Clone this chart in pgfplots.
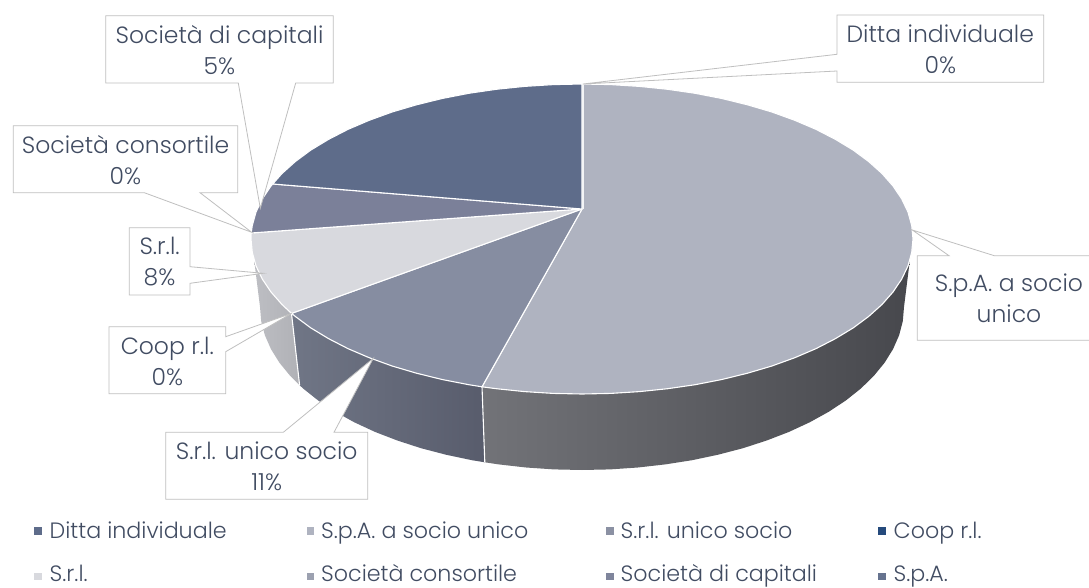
\documentclass[border=0pt]{standalone}
\usepackage{pgfplots}
\pgfplotsset{compat=1.18}
\usepackage{fontspec}
\setmainfont{Poppins}[UprightFont=* Light]
\definecolor{txt}{HTML}{414C62}
\definecolor{call}{HTML}{BFBFBF}
\definecolor{C1L}{HTML}{727378}
\definecolor{C1M}{HTML}{4D4E53}
\definecolor{C1R}{HTML}{47484D}
\definecolor{C2L}{HTML}{707686}
\definecolor{C2R}{HTML}{585C6C}
\definecolor{C3L}{HTML}{BDBEC3}
\definecolor{C3R}{HTML}{B0B1B6}
\definecolor{T1}{HTML}{AFB3C0}
\definecolor{T2}{HTML}{868DA1}
\definecolor{T3}{HTML}{D8D9DE}
\definecolor{T4}{HTML}{7B8099}
\definecolor{T5}{HTML}{5E6C8A}
\definecolor{L3}{HTML}{8B91A3}
\definecolor{L4}{HTML}{254A7C}
\definecolor{L6}{HTML}{9CA1B0}
\definecolor{L7}{HTML}{7F859C}
\definecolor{L8}{HTML}{66738F}
\pgfplotsset{
 slice/.style={draw=white,line width=1.1pt,line join=round},
 callout/.style={draw=call,line width=0.8pt,fill=white,line join=miter},
 lg/.style={only marks,mark=square*,mark size=3.2pt,mark options={solid,draw=#1,fill=#1,line width=0.1pt}}
}
\newcommand{\lab}[3]{\node[text=txt,font=\fontsize{23.5}{31}\selectfont,align=center,inner sep=0pt] at (axis cs:#1,#2) {#3};}
\newcommand{\leg}[3]{\node[text=txt,font=\fontsize{22.2}{24}\selectfont,anchor=base west,inner sep=0pt] at (axis cs:#1,#2) {#3};}
\begin{document}
\begin{tikzpicture}
\path[use as bounding box] (0,0) rectangle (1089pt,588pt);
\begin{axis}[at={(0,0)},anchor=south west,width=1089pt,height=588pt,scale only axis,
 xmin=0,xmax=1089,ymin=0,ymax=588,y dir=reverse,axis lines=none,clip=true]
% sides
\addplot[draw=none,left color=C1L,middle color=C1M,right color=C1R] coordinates {
(909.8,260.6)(908,265.9)(901.7,279.1)(893,292)(882,304.5)(868.6,316.5)(853.2,327.9)(835.5,338.6)(816.1,348.6)(794.8,357.7)(771.9,366)(747.5,373.2)(721.9,379.5)(695.2,384.7)(667.7,388.7)(639.5,391.6)(610.9,393.4)(582,394)(553.1,393.4)(524.5,391.6)(496.3,388.7)(482,386.8)
(484.8,462.3)(498.7,464.4)(526.1,467.5)(553.9,469.4)(582,470)(610.1,469.4)(637.9,467.5)(665.3,464.4)(692.1,460.2)(718.1,454.7)(743,448.2)(766.7,440.5)(789,431.9)(809.7,422.3)(828.7,411.8)(845.8,400.5)(860.9,388.5)(873.8,375.9)(884.6,362.7)(893,349.2)(899.1,335.3)(902.8,321.2)(904,307)
} --cycle;
\addplot[draw=none,left color=C2L,right color=C2R] coordinates {
(482,386.8)(468.8,384.7)(442.1,379.5)(416.5,373.2)(392.1,366)(369.2,357.7)(347.9,348.6)(328.5,338.6)(310.8,327.9)(295.4,316.5)(291.5,313.4)
(299.6,385.2)(303.1,388.5)(318.2,400.5)(335.3,411.8)(354.3,422.3)(375,431.9)(397.3,440.5)(421,448.2)(445.9,454.7)(471.9,460.2)(484.8,462.3)
} --cycle;
\addplot[draw=none,left color=C3L,right color=C3R] coordinates {
(291.5,313.4)(282,304.5)(271,292)(262.3,279.1)(256,265.9)(254,259)
(260,307)(261.2,321.2)(264.9,335.3)(271,349.2)(279.4,362.7)(290.2,375.9)(299.6,385.2)
} --cycle;
% separators on the side
\addplot[white,line width=1.1pt] coordinates {(482,386.8)(484.8,462.3)};
\addplot[white,line width=1.1pt] coordinates {(291.5,313.4)(299.6,385.2)};
% top faces
\addplot[slice,fill=T1] coordinates {
(582,209)(582,84)(610.9,84.6)(639.5,86.4)(667.7,89.3)(695.2,93.3)(721.9,98.5)(747.5,104.8)(771.9,112)(794.8,120.3)(816.1,129.4)(835.5,139.4)(853.2,150.1)(868.6,161.5)(882,173.5)(893,186)(901.7,198.9)(908,212.1)(911.7,225.5)(913,239)(911.7,252.5)(908,265.9)(901.7,279.1)(893,292)(882,304.5)(868.6,316.5)(853.2,327.9)(835.5,338.6)(816.1,348.6)(794.8,357.7)(771.9,366)(747.5,373.2)(721.9,379.5)(695.2,384.7)(667.7,388.7)(639.5,391.6)(610.9,393.4)(582,394)(553.1,393.4)(524.5,391.6)(496.3,388.7)(482,386.8)
} --cycle;
\addplot[slice,fill=T2] coordinates {
(582,209)(482,386.8)(468.8,384.7)(442.1,379.5)(416.5,373.2)(392.1,366)(369.2,357.7)(347.9,348.6)(328.5,338.6)(310.8,327.9)(295.4,316.5)(291.5,313.4)
} --cycle;
\addplot[slice,fill=T3] coordinates {
(582,209)(291.5,313.4)(282,304.5)(271,292)(262.3,279.1)(256,265.9)(252.3,252.5)(251,239)(251.2,233)
} --cycle;
\addplot[slice,fill=T4] coordinates {
(582,209)(251.2,233)(252.3,225.5)(256,212.1)(262.3,198.9)(271,186)(272.7,184)
} --cycle;
\addplot[slice,fill=T5] coordinates {
(582,209)(272.7,184)(282,173.5)(295.4,161.5)(310.8,150.1)(328.5,139.4)(347.9,129.4)(369.2,120.3)(392.1,112)(416.5,104.8)(442.1,98.5)(468.8,93.3)(496.3,89.3)(524.5,86.4)(553.1,84.6)(582,84)
} --cycle;
\addplot[white!85!T1,line width=2pt] coordinates {(582.5,209)(582.5,84)};
% callouts
\addplot[callout] coordinates {(105.7,15.7)(333.3,15.7)(333.3,83)(295.7,83)(260.3,208.3)(238.3,83)(105.7,83)} --cycle;
\addplot[callout] coordinates {(13.3,125.7)(237.7,125.7)(237.7,192.7)(200,192.7)(251.7,232.3)(144.3,192.7)(13.3,192.7)} --cycle;
\addplot[callout] coordinates {(129.3,227.7)(190,227.7)(190,266.7)(263.3,273.3)(190,283.3)(190,295)(129.3,295)} --cycle;
\addplot[callout] coordinates {(109,326.7)(225.7,326.7)(225.7,336.7)(291.7,313.3)(225.7,351.7)(225.7,393.7)(109,393.7)} --cycle;
\addplot[callout] coordinates {(165.7,432.3)(283.3,432.3)(373.3,358.3)(334,432.3)(367.7,432.3)(367.7,499.3)(165.7,499.3)} --cycle;
\addplot[callout] coordinates {(837,15)(1043.7,15)(1043.7,82.3)(837,82.3)(837,71)(583,84)(837,54.3)} --cycle;
\addplot[callout] coordinates {(1095,255.7)(994.3,255.7)(912.3,230)(949,255.7)(917.3,255.7)(917.3,340.3)(1095,340.3)};
\lab{219.5}{50}{Società di capitali\\5\%}
\lab{125.5}{160}{Società consortile\\0\%}
\lab{159.6}{262}{S.r.l.\\8\%}
\lab{167.3}{361}{Coop r.l.\\0\%}
\lab{266.7}{466.5}{S.r.l. unico socio\\11\%}
\lab{940.3}{49.5}{Ditta individuale\\0\%}
\lab{1009}{298.5}{S.p.A. a socio\\unico}
% legend
\addplot[lg=T5] coordinates {(37.5,530.5)};
\addplot[lg=T1] coordinates {(310,530.5)};
\addplot[lg=L3] coordinates {(609.5,530.5)};
\addplot[lg=L4] coordinates {(881.5,530.5)};
\addplot[lg=T3] coordinates {(37.5,576)};
\addplot[lg=L6] coordinates {(310,576)};
\addplot[lg=L7] coordinates {(609.5,576)};
\addplot[lg=L8] coordinates {(881.5,576)};
\leg{49.5}{538.5}{Ditta individuale}
\leg{321}{538.5}{S.p.A. a socio unico}
\leg{620.5}{538.5}{S.r.l. unico socio}
\leg{893.5}{538.5}{Coop r.l.}
\leg{49.5}{581.5}{S.r.l.}
\leg{321}{581.5}{Società consortile}
\leg{620.5}{581.5}{Società di capitali}
\leg{893.5}{581.5}{S.p.A.}
\end{axis}
\end{tikzpicture}
\end{document}
